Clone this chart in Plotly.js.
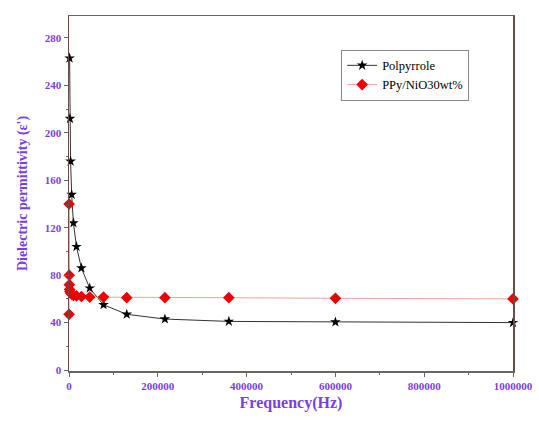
<!DOCTYPE html>
<html>
<head>
<meta charset="utf-8">
<script src="https://cdn.plot.ly/plotly-3.0.1.min.js"></script>
<style>html,body{margin:0;padding:0;background:#fff;}#chart{width:539px;height:423px;}</style>
</head>
<body>
<div id="chart"></div>
<script>
const freqPPy = [1300, 2160, 3600, 6000, 10000, 16800, 28000, 46700, 77800, 130000, 216000, 360000, 600000, 1000000];
const epsPPy  = [263, 212, 176, 148, 124, 104, 86, 69, 55, 47, 43, 41, 40.5, 40];
const freqNiO = [168, 280, 467, 778, 1300, 2160, 3600, 6000, 10000, 16800, 28000, 46700, 77800, 130000, 216000, 360000, 600000, 1000000];
const epsNiO  = [47, 140, 80, 72, 68, 66, 65, 64, 63, 62.5, 62, 61.5, 61.5, 61, 61, 61, 60.5, 60];

const purple = '#7a3fe0';
const serif = 'Liberation Serif, Times New Roman, serif';
const axisFont = {family: serif, size: 11, color: purple, weight: 'bold'};

const traces = [
  {x: freqPPy, y: epsPPy, name: 'Polpyrrole', mode: 'lines+markers', cliponaxis: false,
   line: {color: '#333333', width: 1},
   marker: {symbol: 'star', size: 8, color: '#000000'}},
  {x: freqNiO, y: epsNiO, name: 'PPy/NiO30wt%', mode: 'lines+markers', cliponaxis: false,
   line: {color: '#f4a0a0', width: 1},
   marker: {symbol: 'diamond', size: 9, color: '#ee0000'}}
];

const layout = {
  width: 539, height: 423,
  margin: {l: 69, r: 26, t: 16, b: 52},
  paper_bgcolor: '#ffffff', plot_bgcolor: '#ffffff',
  showlegend: true,
  legend: {x: 0.613, y: 0.905, xanchor: 'left', yanchor: 'top',
    bgcolor: '#ffffff', bordercolor: '#888888', borderwidth: 1,
    font: {family: serif, size: 12.5, color: '#000'},
    tracegroupgap: 0, itemwidth: 30},
  xaxis: {
    range: [0, 1000000], tickvals: [0, 200000, 400000, 600000, 800000, 1000000],
    ticktext: ['0', '200000', '400000', '600000', '800000', '1000000'],
    showgrid: false, zeroline: false, showline: true, linecolor: '#666666', linewidth: 1.5,
    mirror: true, ticks: 'outside', ticklen: 4, tickcolor: '#666666',
    minor: {dtick: 100000, tick0: 0, ticks: 'outside', ticklen: 2, tickcolor: '#666666'},
    tickfont: axisFont,
    title: {text: 'Frequency(Hz)', font: {family: serif, size: 16, color: purple, weight: 'bold'}, standoff: 6}
  },
  yaxis: {
    range: [-0.8, 298.5], tickvals: [0, 40, 80, 120, 160, 200, 240, 280],
    showgrid: false, zeroline: false, showline: true, linecolor: '#6a4a4a', linewidth: 1.5,
    mirror: true, ticks: 'outside', ticklen: 4, tickcolor: '#666666',
    minor: {dtick: 20, tick0: 0, ticks: 'outside', ticklen: 2, tickcolor: '#666666'},
    tickfont: axisFont,
    title: {text: "Dielectric permittivity (ε')", font: {family: serif, size: 14, color: purple, weight: 'bold'}, standoff: 14}
  }
};

Plotly.newPlot('chart', traces, layout, {displayModeBar: false, staticPlot: true});
</script>
</body>
</html>
